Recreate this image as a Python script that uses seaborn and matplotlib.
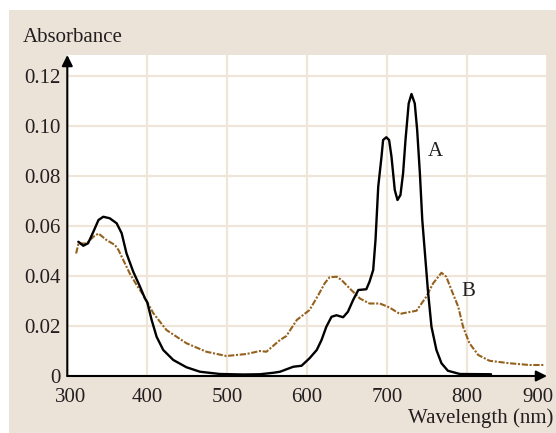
import matplotlib
matplotlib.use("Agg")
import matplotlib.pyplot as plt
import matplotlib.transforms as mtransforms
import seaborn as sns
from matplotlib.patches import Rectangle

# ---- data ----
a_nm = [313.8, 320, 326, 332.6, 339, 345, 353, 361.7, 368, 374, 382.5, 391, 397, 400,
        405.5, 411.7, 420, 432.6, 449, 466, 491, 521, 541, 558, 566, 582.6, 593, 603,
        612, 618, 624, 630.5, 636.7, 645, 651, 657.5, 664, 674, 678, 682.6, 685.5,
        688.9, 693, 695, 699, 702.5, 705.5, 709.6, 713, 716.7, 720, 723, 727, 730.5,
        734.6, 737.6, 741, 744, 747, 751, 755.5, 761.7, 768, 776, 791, 830]
a_abs = [0.0537, 0.0521, 0.0531, 0.0577, 0.0624, 0.0637, 0.0631, 0.0611, 0.0571, 0.0491,
         0.0417, 0.0357, 0.0311, 0.0295, 0.0224, 0.0157, 0.0104, 0.0064, 0.0035, 0.0017,
         0.0008, 0.0006, 0.0007, 0.0013, 0.0017, 0.0037, 0.0041, 0.0071, 0.0104, 0.0144,
         0.0197, 0.0237, 0.0243, 0.0235, 0.0257, 0.0304, 0.0344, 0.0347, 0.0377, 0.0424,
         0.0544, 0.0757, 0.0877, 0.0944, 0.0955, 0.0944, 0.0877, 0.0744, 0.0704, 0.0724,
         0.0811, 0.0944, 0.109, 0.1128, 0.109, 0.0984, 0.0811, 0.0624, 0.0504, 0.0344,
         0.0197, 0.0104, 0.0051, 0.0021, 0.0008, 0.0007]

b_nm = [311, 314, 324, 332.6, 339, 349, 359.6, 364, 370, 378, 386.7, 395, 407.6, 424,
        449, 474, 499, 524, 541, 549, 566, 574, 587, 603, 614, 622, 628, 637, 643, 653,
        666, 678, 691, 703, 716, 720, 736.7, 749, 757.6, 768, 774, 780.5, 789, 795, 803,
        814, 828, 853, 878, 897]
b_abs = [0.049, 0.053, 0.053, 0.0557, 0.057, 0.0544, 0.0524, 0.0504, 0.0464, 0.0411,
         0.0364, 0.0324, 0.0251, 0.0184, 0.0131, 0.0097, 0.008, 0.0088, 0.0100, 0.0097,
         0.0144, 0.0160, 0.0224, 0.0264, 0.0324, 0.0371, 0.0395, 0.0397, 0.0384, 0.0351,
         0.031, 0.029, 0.029, 0.0274, 0.0248, 0.0251, 0.0261, 0.0317, 0.0371, 0.0413,
         0.0397, 0.0344, 0.0277, 0.0197, 0.0131, 0.0084, 0.0061, 0.0051, 0.0044, 0.0044]

x_ticks = [300, 400, 500, 600, 700, 800, 900]
y_ticks = [0, 0.02, 0.04, 0.06, 0.08, 0.10, 0.12]
y_ticklabels = ["0", "0.02", "0.04", "0.06", "0.08", "0.10", "0.12"]
series_labels = ["A", "B"]

# ---- styling ----
sns.set_style("white")
plt.rcParams["font.family"] = ["Liberation Serif", "DejaVu Serif"]

BEIGE = "#ece3d8"
GRID = "#efe5d8"
BROWN = "#94621f"
TEXT = "#231f20"
FS = 15

fig = plt.figure(figsize=(5.56, 4.33), dpi=100, facecolor="white")
fig.patches.append(Rectangle((9 / 556, 0), 1 - 9 / 556, (433 - 10) / 433,
                             transform=fig.transFigure, facecolor=BEIGE,
                             edgecolor="none", zorder=-10))

ax = fig.add_axes([67.3 / 556, 57 / 433, (547 - 67.3) / 556, (376 - 55) / 433])
ax.set_zorder(1)
ax.set_facecolor("white")

sns.lineplot(x=a_nm, y=a_abs, ax=ax, color="black", lw=1.7, zorder=3)
sns.lineplot(x=b_nm, y=b_abs, ax=ax, color=BROWN, lw=1.5,
             linestyle=(0, (3, 0.8, 1, 0.8)), zorder=2)

ax.set_xlim(300, 900)
ax.set_ylim(0, 0.1284)
ax.set_xticks(x_ticks)
ax.set_xticklabels([str(t) for t in x_ticks])
ax.set_yticks(y_ticks)
ax.set_yticklabels(y_ticklabels)
ax.tick_params(axis="both", length=0, labelsize=FS, colors=TEXT)
ax.tick_params(axis="y", pad=5)
ax.tick_params(axis="x", pad=9)
ax.grid(True, color=GRID, lw=1.6)
ax.set_axisbelow(True)
for s in ax.spines.values():
    s.set_visible(False)

# shift first/last x tick label slightly like the reference
xl = ax.get_xticklabels()
xl[-1].set_transform(xl[-1].get_transform() +
                     mtransforms.ScaledTranslation(-9 / 100, 0, fig.dpi_scale_trans))
xl[0].set_transform(xl[0].get_transform() +
                    mtransforms.ScaledTranslation(3 / 100, 0, fig.dpi_scale_trans))

# axis arrows
ax.annotate("", xy=(1, 0), xytext=(0, 0), xycoords="axes fraction",
            arrowprops=dict(arrowstyle="-|>", color="black", lw=1.5,
                            mutation_scale=16, shrinkA=0, shrinkB=0), zorder=5,
            annotation_clip=False)
ax.annotate("", xy=(0, 1), xytext=(0, 0), xycoords="axes fraction",
            arrowprops=dict(arrowstyle="-|>", color="black", lw=1.5,
                            mutation_scale=16, shrinkA=0, shrinkB=0), zorder=5,
            annotation_clip=False)

ax.text(760, 0.0896, series_labels[0], fontsize=FS, color=TEXT, va="center", ha="center")
ax.text(801, 0.0336, series_labels[1], fontsize=FS, color=TEXT, va="center", ha="center")

ax.set_xlabel("")
ax.set_ylabel("")
fig.text(23 / 556, 1 - 37 / 433, "Absorbance", fontsize=FS, color=TEXT,
         ha="left", va="center")
fig.text(553 / 556, 1 - 418 / 433, "Wavelength (nm)", fontsize=FS, color=TEXT,
         ha="right", va="center")

fig.savefig("out.png", dpi=100, facecolor="white")
